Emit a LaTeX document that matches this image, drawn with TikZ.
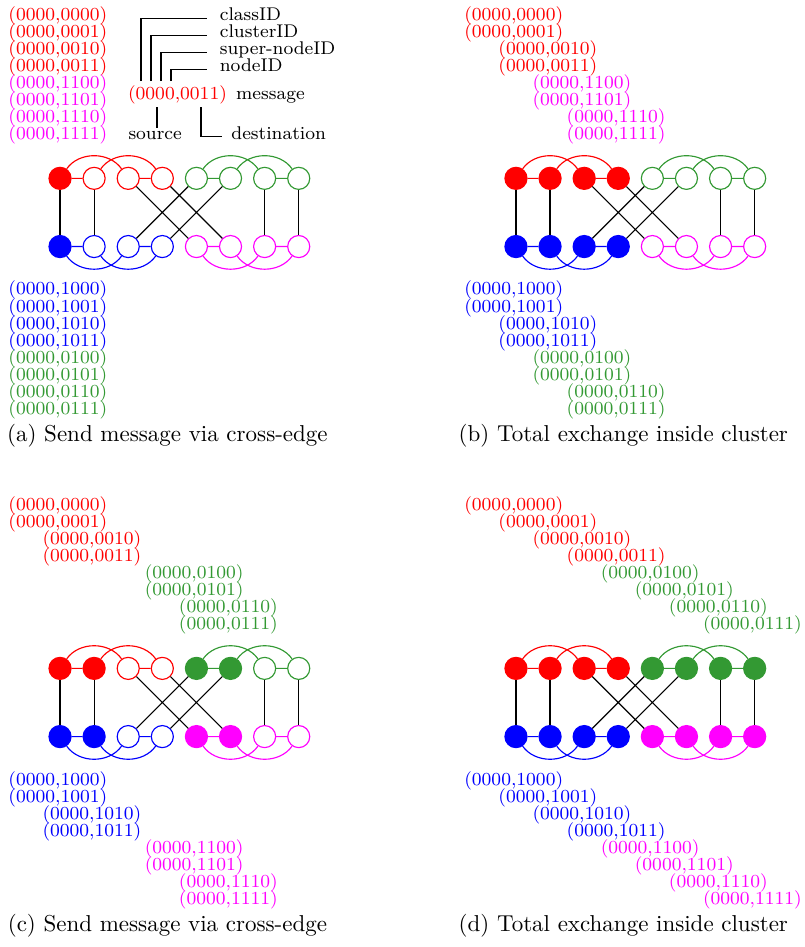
\documentclass[tikz,border=0pt]{standalone}
\usepackage{tikz}
\usetikzlibrary{positioning}
\definecolor{cgreen}{rgb}{0.2,0.6,0.2}
\definecolor{cmagenta}{rgb}{1,0,1}

%Graph of one panel: #1 prefix, #2..#5 filled nodes in the red, green, blue, magenta cluster
\newcommand{\netgraph}[5]{%
  \foreach \i in {0,...,3}{%
    \pgfmathtruncatemacro\jj{\i+4}%
    \pgfmathtruncatemacro\fillr{\i<#2}%
    \pgfmathtruncatemacro\fillg{\i<#3}%
    \pgfmathtruncatemacro\fillb{\i<#4}%
    \pgfmathtruncatemacro\fillm{\i<#5}%
    \ifnum\fillr=1 \node[full=red] (#1T\i) at (\i,0) {};\else \node[ring=red] (#1T\i) at (\i,0) {};\fi
    \ifnum\fillg=1 \node[full=cgreen] (#1T\jj) at (\jj,0) {};\else \node[ring=cgreen] (#1T\jj) at (\jj,0) {};\fi
    \ifnum\fillb=1 \node[full=blue] (#1B\i) at (\i,-2) {};\else \node[ring=blue] (#1B\i) at (\i,-2) {};\fi
    \ifnum\fillm=1 \node[full=cmagenta] (#1B\jj) at (\jj,-2) {};\else \node[ring=cmagenta] (#1B\jj) at (\jj,-2) {};\fi
  }
  %edges inside the clusters
  \draw[red] (#1T0)--(#1T1) (#1T2)--(#1T3) (#1T0) to[bend left=55] (#1T2) (#1T1) to[bend left=55] (#1T3);
  \draw[cgreen] (#1T4)--(#1T5) (#1T6)--(#1T7) (#1T4) to[bend left=55] (#1T6) (#1T5) to[bend left=55] (#1T7);
  \draw[blue] (#1B0)--(#1B1) (#1B2)--(#1B3) (#1B0) to[bend right=55] (#1B2) (#1B1) to[bend right=55] (#1B3);
  \draw[cmagenta] (#1B4)--(#1B5) (#1B6)--(#1B7) (#1B4) to[bend right=55] (#1B6) (#1B5) to[bend right=55] (#1B7);
  %edges between the clusters
  \draw (#1T0)--(#1B0) (#1T1)--(#1B1) (#1T6)--(#1B6) (#1T7)--(#1B7);
  \draw (#1T2)--(#1B4) (#1T3)--(#1B5) (#1T4)--(#1B2) (#1T5)--(#1B3);
}

\begin{document}
\begin{tikzpicture}
[x=14.83pt,y=14.83pt,line width=0.5pt,
 ring/.style={draw=#1,circle,fill=white,minimum size=9.6pt,inner sep=0pt},
 full/.style={draw=#1,circle,fill=#1,minimum size=9.6pt,inner sep=0pt},
 addr/.style={font=\footnotesize,inner sep=0pt,anchor=base west},
 idtag/.style={font=\footnotesize,inner sep=0pt,inner xsep=5.2pt,anchor=base west},
 capt/.style={inner sep=0pt,anchor=base},]

\useasboundingbox (-1.76,5.23) rectangle (21.82,-22.54);

%Panel (a)
\begin{scope}
\netgraph{a}{1}{0}{1}{0}
\foreach \n/\x/\col/\bits in {0/0/red/0000,1/0/red/0001,2/0/red/0010,3/0/red/0011,4/0/cmagenta/1100,5/0/cmagenta/1101,6/0/cmagenta/1110,7/0/cmagenta/1111}
  \node[addr,text=\col] (au\n) at (\x-1.53,4.63-0.5*\n) {(0000,\bits)};
\foreach \n/\x/\col/\bits in {0/0/blue/1000,1/0/blue/1001,2/0/blue/1010,3/0/blue/1011,4/0/cgreen/0100,5/0/cgreen/0101,6/0/cgreen/0110,7/0/cgreen/0111}
  \node[addr,text=\col] (ad\n) at (\x-1.53,-3.42-0.5*\n) {(0000,\bits)};

%Legend of the message
\node[addr,text=red] (msg) at (1.98,2.30) {(0000,0011)};
\node[addr] (msgtxt) at (5.15,2.30) {message};
\node[idtag] (classID) at (4.32,4.63) {classID};
\node[idtag] (clusterID) at (4.32,4.13) {clusterID};
\node[idtag] (superID) at (4.32,3.63) {super-nodeID};
\node[idtag] (nodeID) at (4.32,3.13) {nodeID};
\coordinate (cls) at (2.375,2.853);
\coordinate (clu) at (2.669,2.853);
\coordinate (sup) at (2.962,2.853);
\coordinate (nod) at (3.255,2.853);
\draw (cls) |- ([yshift=1pt]classID.base west);
\draw (clu) |- ([yshift=1pt]clusterID.base west);
\draw (sup) |- ([yshift=1pt]superID.base west);
\draw (nod) |- ([yshift=1pt]nodeID.base west);
\node[font=\footnotesize,inner sep=1.5pt,anchor=base] (src) at (2.79,1.13) {source};
\node[idtag,inner xsep=4pt] (dst) at (4.74,1.13) {destination};
\coordinate (srcstem) at (2.845,2.09);
\coordinate (dststem) at (4.135,2.09);
\draw (srcstem) -- (srcstem |- src.north);
\draw (dststem) |- ([yshift=1.4pt]dst.base west);

\node[capt] (capa) at (3.15,-7.72) {(a) Send message via cross-edge};
\end{scope}

%Panel (b)
\begin{scope}[shift={(13.37,0)}]
\netgraph{b}{4}{0}{4}{0}
\foreach \n/\x/\col/\bits in {0/0/red/0000,1/0/red/0001,2/1/red/0010,3/1/red/0011,4/2/cmagenta/1100,5/2/cmagenta/1101,6/3/cmagenta/1110,7/3/cmagenta/1111}
  \node[addr,text=\col] (bu\n) at (\x-1.53,4.63-0.5*\n) {(0000,\bits)};
\foreach \n/\x/\col/\bits in {0/0/blue/1000,1/0/blue/1001,2/1/blue/1010,3/1/blue/1011,4/2/cgreen/0100,5/2/cgreen/0101,6/3/cgreen/0110,7/3/cgreen/0111}
  \node[addr,text=\col] (bd\n) at (\x-1.53,-3.42-0.5*\n) {(0000,\bits)};
\node[capt] (capb) at (3.15,-7.72) {(b) Total exchange inside cluster};
\end{scope}

%Panel (c)
\begin{scope}[shift={(0,-14.37)}]
\netgraph{c}{2}{2}{2}{2}
\foreach \n/\x/\col/\bits in {0/0/red/0000,1/0/red/0001,2/1/red/0010,3/1/red/0011,4/4/cgreen/0100,5/4/cgreen/0101,6/5/cgreen/0110,7/5/cgreen/0111}
  \node[addr,text=\col] (cu\n) at (\x-1.53,4.63-0.5*\n) {(0000,\bits)};
\foreach \n/\x/\col/\bits in {0/0/blue/1000,1/0/blue/1001,2/1/blue/1010,3/1/blue/1011,4/4/cmagenta/1100,5/4/cmagenta/1101,6/5/cmagenta/1110,7/5/cmagenta/1111}
  \node[addr,text=\col] (cd\n) at (\x-1.53,-3.42-0.5*\n) {(0000,\bits)};
\node[capt] (capc) at (3.15,-7.72) {(c) Send message via cross-edge};
\end{scope}

%Panel (d)
\begin{scope}[shift={(13.37,-14.37)}]
\netgraph{d}{4}{4}{4}{4}
\foreach \n/\x/\col/\bits in {0/0/red/0000,1/1/red/0001,2/2/red/0010,3/3/red/0011,4/4/cgreen/0100,5/5/cgreen/0101,6/6/cgreen/0110,7/7/cgreen/0111}
  \node[addr,text=\col] (du\n) at (\x-1.53,4.63-0.5*\n) {(0000,\bits)};
\foreach \n/\x/\col/\bits in {0/0/blue/1000,1/1/blue/1001,2/2/blue/1010,3/3/blue/1011,4/4/cmagenta/1100,5/5/cmagenta/1101,6/6/cmagenta/1110,7/7/cmagenta/1111}
  \node[addr,text=\col] (dd\n) at (\x-1.53,-3.42-0.5*\n) {(0000,\bits)};
\node[capt] (capd) at (3.15,-7.72) {(d) Total exchange inside cluster};
\end{scope}

\end{tikzpicture}
\end{document}
